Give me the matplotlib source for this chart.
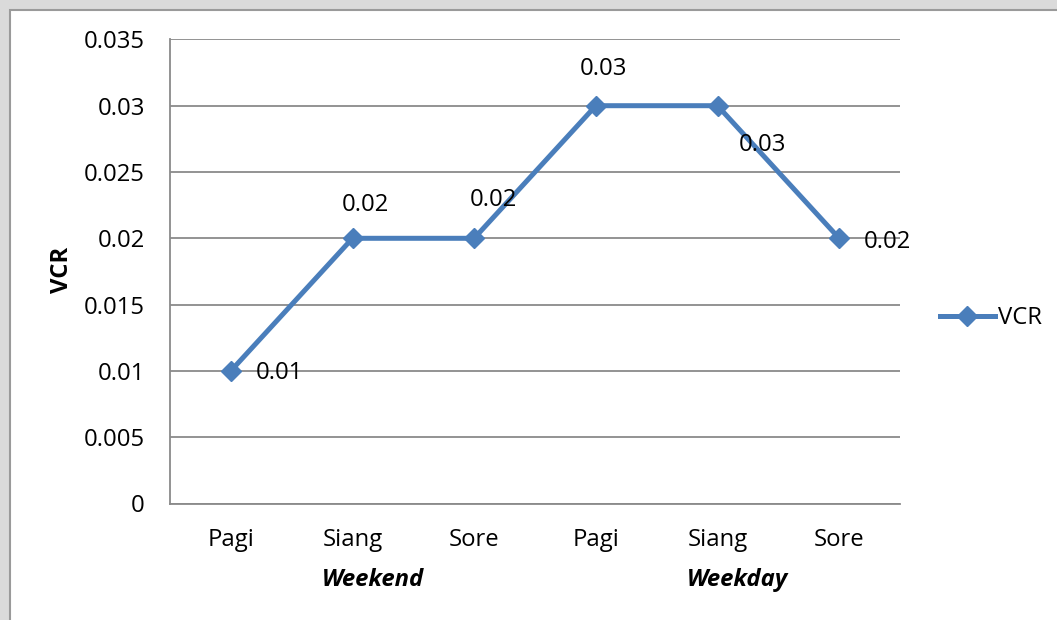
import matplotlib.pyplot as plt
from matplotlib.patches import Rectangle
from matplotlib.transforms import blended_transform_factory

# data
categories = ['Pagi', 'Siang', 'Sore', 'Pagi', 'Siang', 'Sore']
groups = ['Weekend', 'Weekday']
vcr = [0.01, 0.02, 0.02, 0.03, 0.03, 0.02]
labels = ['0.01', '0.02', '0.02', '0.03', '0.03', '0.02']
yticks = [0, 0.005, 0.01, 0.015, 0.02, 0.025, 0.03, 0.035]

# label offsets in pixels (dx, dy)
offsets = [(49, -2), (13, 33), (19, 38), (8, 37), (45, -39), (48, -4)]

plt.rcParams['font.family'] = ['Open Sans', 'DejaVu Sans']
fs = 17.2

blue = '#4a7ebb'
grid_c = '#8a8a8a'

fig = plt.figure(figsize=(10.57, 6.2), dpi=100)
fig.patch.set_facecolor('#dadada')
fig.patches.append(Rectangle((10/1057, -0.01), 1.1, 1 - 10/620 + 0.01,
                             transform=fig.transFigure, facecolor='white',
                             edgecolor='#9a9a9a', linewidth=1.5, zorder=-1))

ax = fig.add_axes([170/1057, 1 - 503.5/620, 730/1057, (503.5 - 39.4)/620])
ax.set_facecolor('none')
ax.set_zorder(1)

x = [i + 0.5 for i in range(len(categories))]
ax.plot(x, vcr, color=blue, lw=3.6, marker='D', ms=10, label='VCR',
        solid_joinstyle='miter', zorder=3)

for xi, yi, lab, (dx, dy) in zip(x, vcr, labels, offsets):
    ax.annotate(lab, (xi, yi), xytext=(dx, dy), textcoords='offset pixels',
                ha='center', va='center', fontsize=fs, zorder=4)

ax.set_xlim(0, 6)
ax.set_ylim(0, 0.035)
ax.set_yticks(yticks)
ax.set_yticklabels(['0', '0.005', '0.01', '0.015', '0.02', '0.025', '0.03', '0.035'])
ax.set_xticks(x)
ax.set_xticklabels(categories)
ax.tick_params(axis='both', length=0, labelsize=fs)
ax.tick_params(axis='x', pad=18)
ax.tick_params(axis='y', pad=18)
ax.yaxis.grid(True, color=grid_c, lw=1.3)
ax.set_axisbelow(True)
for s in ['top', 'right']:
    ax.spines[s].set_visible(False)
for s in ['left', 'bottom']:
    ax.spines[s].set_color(grid_c)
    ax.spines[s].set_linewidth(1.3)

trans = blended_transform_factory(ax.transData, fig.transFigure)
for g, gx in zip(groups, [1.5, 4.5]):
    ax.text(gx - 0.25, 1 - 580/620, g, transform=trans, ha='left', va='center',
            fontsize=fs, fontweight='bold', fontstyle='italic')

fig.text(62/1057, 1 - 270/620, 'VCR', rotation=90, ha='center', va='center',
         fontsize=fs, fontweight='bold')

fig.legend(loc='center left', bbox_to_anchor=(940/1057, 1 - 318/620),
           frameon=False, fontsize=fs, handlelength=2.3, handletextpad=0.12,
           borderpad=0, borderaxespad=0)

fig.savefig('out.png', dpi=100, facecolor=fig.get_facecolor())
